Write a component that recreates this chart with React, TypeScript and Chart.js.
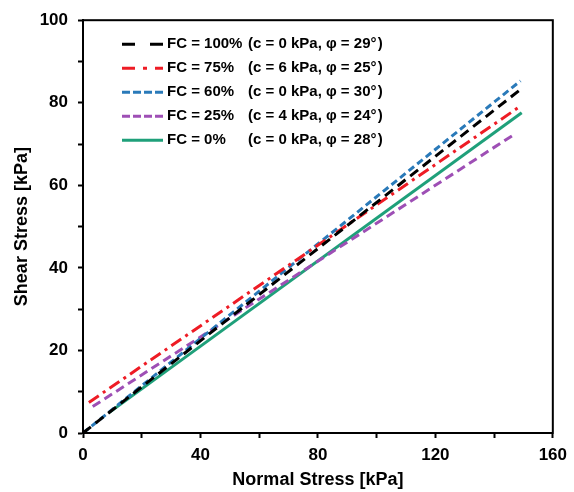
import React, { useEffect, useRef } from "react";
import { Chart, registerables } from "chart.js";

Chart.register(...registerables);

const seriesNames = ["FC = 100%", "FC = 75%", "FC = 60%", "FC = 25%", "FC = 0%"];
const seriesParams = [
  "(c = 0 kPa, φ = 29°\u200A)",
  "(c = 6 kPa, φ = 25°\u200A)",
  "(c = 0 kPa, φ = 30°\u200A)",
  "(c = 4 kPa, φ = 24°\u200A)",
  "(c = 0 kPa, φ = 28°\u200A)",
];
const fc100X = [0, 149.5];
const fc100Y = [0, 83.5];
const fc75X = [2, 149];
const fc75Y = [7.4, 79.2];
const fc60X = [0, 149];
const fc60Y = [0, 85.3];
const fc25X = [3.3, 147];
const fc25Y = [6.4, 72.4];
const fc0X = [9, 149.4];
const fc0Y = [5, 77.6];

const xTickLabels = [0, 40, 80, 120, 160];
const yTickLabels = [0, 20, 40, 60, 80, 100];

const colors = ["#000000", "#ee1c25", "#2a7ab9", "#9e4fb5", "#1fa07a"];
const plotDash = [[10, 6], [12, 5, 3, 5], [7, 4], [9, 5], []];
const legendDash = [[13, 15], [13, 8, 4, 8], [8, 3], [8, 3], []];

const FONT = "'Liberation Sans', Arial, sans-serif";

function pts(xs: number[], ys: number[]) {
  return xs.map((x, i) => ({ x, y: ys[i] }));
}

export default function App() {
  const ref = useRef<HTMLCanvasElement | null>(null);
  useEffect(() => {
    document.body.style.margin = "0";
    const seriesX = [fc100X, fc75X, fc60X, fc25X, fc0X];
    const seriesY = [fc100Y, fc75Y, fc60Y, fc25Y, fc0Y];
    const datasets = seriesNames.map((name, i) => ({
      label: name,
      data: pts(seriesX[i], seriesY[i]),
      borderColor: colors[i],
      backgroundColor: colors[i],
      borderWidth: 3,
      borderDash: plotDash[i],
      pointRadius: 0,
      fill: false,
      tension: 0,
    }));

    const boxPlugin = {
      id: "boxAndLegend",
      afterDraw(chart: any) {
        const { ctx, chartArea: ca } = chart;
        ctx.save();
        ctx.strokeStyle = "#000";
        ctx.lineWidth = 2;
        ctx.setLineDash([]);
        ctx.strokeRect(ca.left, ca.top, ca.right - ca.left, ca.bottom - ca.top);
        for (let i = 0; i < seriesNames.length; i++) {
          const y = ca.top + 24 + i * 24;
          const x0 = ca.left + 39;
          ctx.beginPath();
          ctx.strokeStyle = colors[i];
          ctx.lineWidth = 3;
          ctx.setLineDash(legendDash[i]);
          ctx.moveTo(x0, y);
          ctx.lineTo(x0 + 41, y);
          ctx.stroke();
          ctx.setLineDash([]);
          ctx.fillStyle = "#000";
          ctx.font = `bold 15px ${FONT}`;
          ctx.textBaseline = "middle";
          ctx.textAlign = "left";
          ctx.fillText(seriesNames[i], x0 + 45, y);
          ctx.fillText(seriesParams[i], x0 + 126, y);
        }
        ctx.restore();
      },
    };

    const tickFont = { size: 17, weight: "bold" as const, family: FONT };
    const titleFont = { size: 18, weight: "bold" as const, family: FONT };

    const chart = new Chart(ref.current as HTMLCanvasElement, {
      type: "line",
      data: { datasets: datasets as any },
      plugins: [boxPlugin],
      options: {
        animation: false,
        responsive: true,
        maintainAspectRatio: false,
        layout: { padding: { top: 19, right: 15, left: 0, bottom: 0 } },
        plugins: { legend: { display: false }, tooltip: { enabled: false } },
        scales: {
          x: {
            type: "linear",
            min: 0,
            max: 160,
            afterFit(scale: any) {
              scale.height = 59;
            },
            ticks: {
              stepSize: 20,
              color: "#000",
              font: tickFont,
              padding: 7,
              maxRotation: 0,
              callback: (v: any) => (xTickLabels.includes(Number(v)) ? String(v) : ""),
            },
            grid: {
              display: true,
              drawOnChartArea: false,
              drawTicks: true,
              tickLength: 5,
              tickColor: "#000",
              tickWidth: 2,
            },
            border: { display: true, color: "#000", width: 2 },
            title: {
              display: true,
              text: "Normal Stress [kPa]",
              color: "#000",
              font: titleFont,
              padding: { top: 0, bottom: 1 },
            },
          },
          y: {
            type: "linear",
            min: 0,
            max: 100,
            afterFit(scale: any) {
              scale.width = 83;
            },
            ticks: {
              stepSize: 10,
              color: "#000",
              font: tickFont,
              padding: 10,
              callback: (v: any) => (yTickLabels.includes(Number(v)) ? String(v) : ""),
            },
            grid: {
              display: true,
              drawOnChartArea: false,
              drawTicks: true,
              tickLength: 5,
              tickColor: "#000",
              tickWidth: 2,
            },
            border: { display: true, color: "#000", width: 2 },
            title: {
              display: true,
              text: "Shear Stress [kPa]",
              color: "#000",
              font: titleFont,
              padding: { top: 11, bottom: 0 },
            },
          },
        },
      },
    });
    return () => chart.destroy();
  }, []);

  return (
    <div style={{ position: "absolute", left: 0, top: 0, width: 574, height: 492, background: "#fff" }}>
      <canvas ref={ref} />
    </div>
  );
}
